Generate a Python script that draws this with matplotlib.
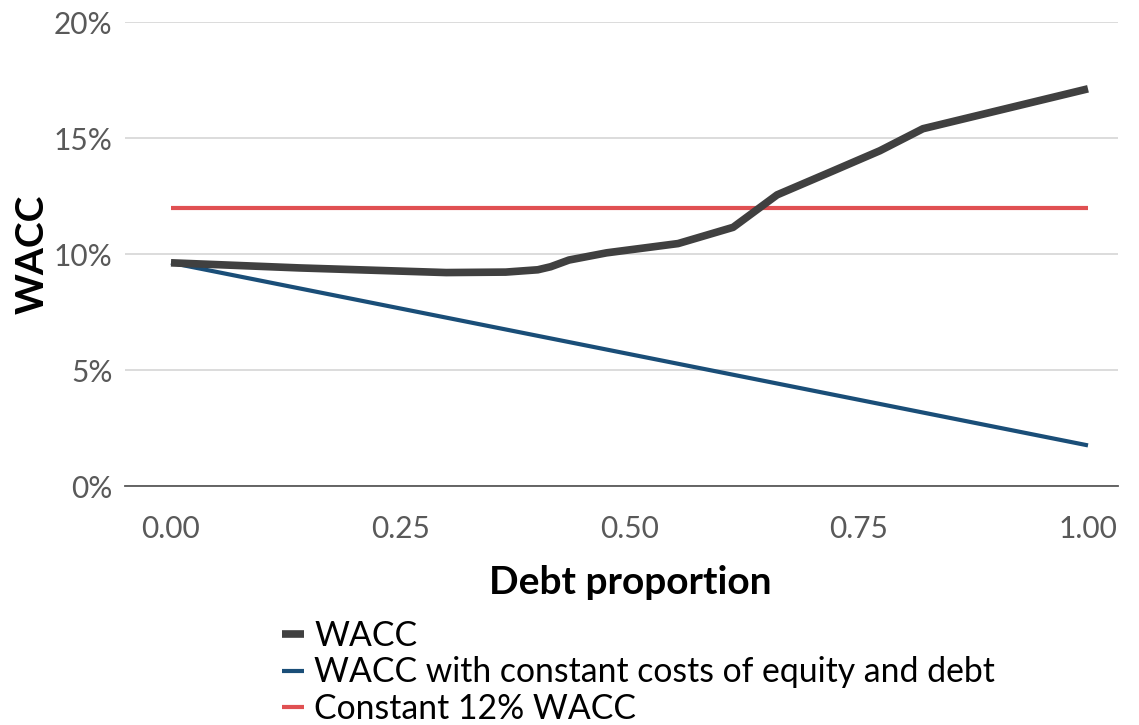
import matplotlib
matplotlib.use("Agg")
import matplotlib.pyplot as plt
from matplotlib.ticker import FuncFormatter, FixedLocator

# Data
wacc_x = [0.0, 0.14, 0.30, 0.365, 0.40, 0.414, 0.434, 0.475, 0.553, 0.613, 0.661, 0.716, 0.773, 0.820, 1.0]
wacc_y = [9.62, 9.40, 9.20, 9.22, 9.32, 9.45, 9.74, 10.05, 10.45, 11.15, 12.55, 13.48, 14.45, 15.40, 17.12]

const_x = [0.0, 1.0]
const_y = [9.62, 1.75]

flat_x = [0.0, 1.0]
flat_y = [12.0, 12.0]

x_ticks = [0.00, 0.25, 0.50, 0.75, 1.00]
y_ticks = [0, 5, 10, 15, 20]

labels = ["WACC", "WACC with constant costs of equity and debt", "Constant 12% WACC"]
colors = ["#404040", "#1a4e78", "#e05052"]

W, H = 1139, 725
fig = plt.figure(figsize=(W / 100, H / 100), dpi=100)
ax = fig.add_axes([125 / W, 1 - 486 / H, (1118 - 125) / W, (486 - 22) / H])

ax.plot(wacc_x, wacc_y, color=colors[0], lw=5.5, solid_capstyle="butt", label=labels[0], zorder=4)
ax.plot(const_x, const_y, color=colors[1], lw=3, solid_capstyle="butt", label=labels[1], zorder=3)
ax.plot(flat_x, flat_y, color=colors[2], lw=3, solid_capstyle="butt", label=labels[2], zorder=2)

ax.set_xlim(-46 / 917, 1 + 30 / 917)
ax.set_ylim(0, 20)
ax.yaxis.set_major_locator(FixedLocator(y_ticks))
ax.xaxis.set_major_locator(FixedLocator(x_ticks))
ax.yaxis.set_major_formatter(FuncFormatter(lambda v, p: f"{v:.0f}%"))
ax.xaxis.set_major_formatter(FuncFormatter(lambda v, p: f"{v:.2f}"))

ax.grid(axis="y", color="#d9d9d9", lw=1.3, zorder=0)
ax.set_axisbelow(True)
for s in ["left", "right", "top"]:
    ax.spines[s].set_visible(False)
ax.spines["bottom"].set_color("#595959")
ax.spines["bottom"].set_linewidth(1.3)
ax.tick_params(axis="both", length=0, labelsize=21.5, labelcolor="#595959")
ax.tick_params(axis="y", pad=9)
ax.tick_params(axis="x", pad=21)
for t in ax.get_xticklabels() + ax.get_yticklabels():
    t.set_fontfamily("Lato")

ax.set_xlabel("Debt proportion", fontsize=28, fontweight="bold", family="Lato", labelpad=16)
ax.xaxis.label.set_x(0.509)
ax.set_ylabel("WACC", fontsize=28, fontweight="bold", family="Lato", labelpad=3)

leg = fig.legend(
    handles=ax.get_lines(), labels=labels,
    loc="upper left", bbox_to_anchor=(282 / W, 1 - 620 / H),
    frameon=False, handlelength=0.65, handletextpad=0.3, labelspacing=0.13,
    borderpad=0, borderaxespad=0,
    prop={"family": ["Lato", "DejaVu Sans"], "size": 24.3},
)

fig.savefig("out.png", dpi=100)
